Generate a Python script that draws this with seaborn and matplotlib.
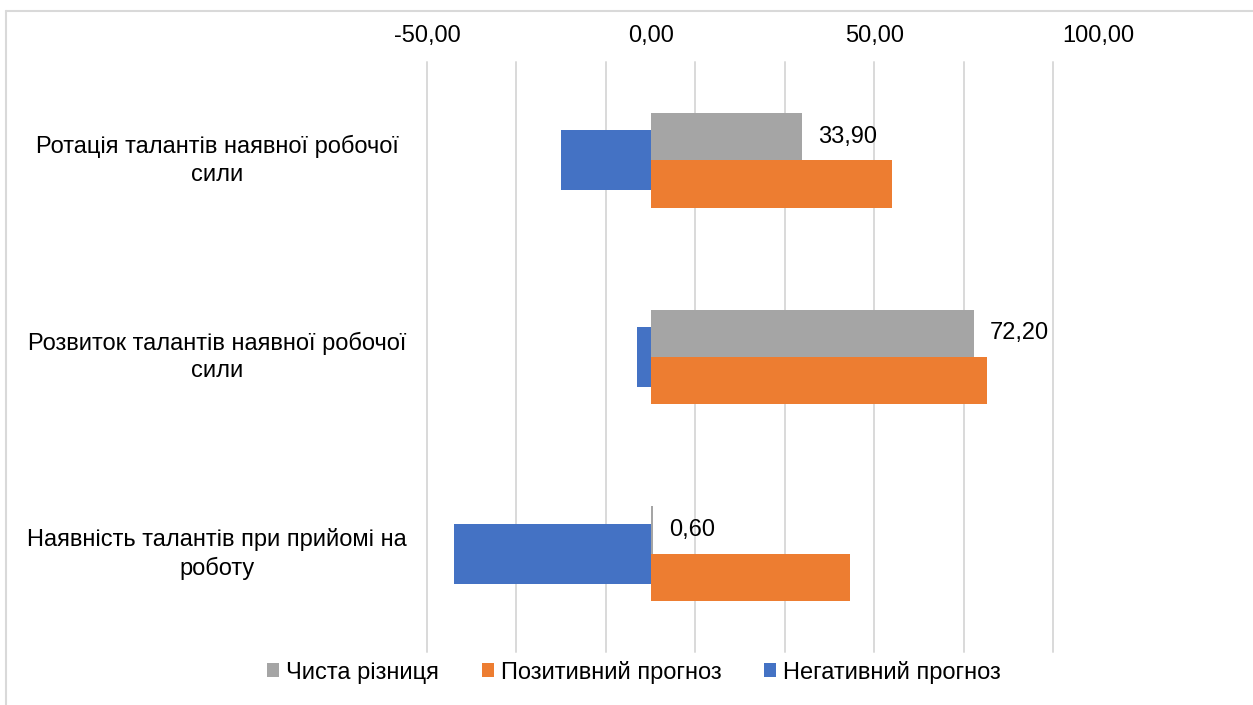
import matplotlib
matplotlib.use("Agg")
import matplotlib.pyplot as plt
import matplotlib.transforms as mtransforms
from matplotlib.ticker import MultipleLocator, FixedLocator
from matplotlib.lines import Line2D
from matplotlib.patches import Patch
import pandas as pd
import seaborn as sns

# Chart data
categories = [
    "Ротація талантів наявної робочої\nсили",
    "Розвиток талантів наявної робочої\nсили",
    "Наявність талантів при прийомі на\nроботу",
]
net_diff = [33.90, 72.20, 0.60]
positive = [53.9, 75.2, 44.5]
negative = [-20.0, -3.0, -43.9]
series_names = ["Чиста різниця", "Позитивний прогноз", "Негативний прогноз"]
series_colors = ["#A5A5A5", "#ED7D31", "#4472C4"]
axis_ticks = [-50, 0, 50, 100]

FS = 17
sns.set_style("white")
plt.rcParams["font.family"] = ["Liberation Sans", "DejaVu Sans"]
plt.rcParams["font.size"] = FS

W, H = 1253, 705
fig = plt.figure(figsize=(W / 100, H / 100), dpi=100)
ax = fig.add_axes([427 / W, 1 - 652 / H, (1098 - 427) / W, (652 - 62) / H])

paired = pd.DataFrame({
    "category": categories * 2,
    "value": net_diff + positive,
    "series": [series_names[0]] * 3 + [series_names[1]] * 3,
})
neg_df = pd.DataFrame({"category": categories, "value": negative})

# Negative forecast: one wider bar centred on each category
sns.barplot(data=neg_df, x="value", y="category", order=categories,
            color=series_colors[2], width=0.305, saturation=1,
            errorbar=None, ax=ax, zorder=2, edgecolor="none")
# Net difference and positive forecast side by side
sns.barplot(data=paired, x="value", y="category", hue="series",
            hue_order=series_names[:2], palette=series_colors[:2],
            order=categories, width=0.48, dodge=True, saturation=1,
            errorbar=None, ax=ax, legend=False, zorder=3, edgecolor="none")

# Value labels on the net difference bars
net_container = ax.containers[1]
ax.bar_label(net_container,
             labels=[f"{v:.2f}".replace(".", ",") for v in net_diff],
             padding=11.5, fontsize=FS, color="#000000")

ax.set_xlim(-50, 100)
ax.set_ylim(2.5, -0.5)

# Axis labels along the top, gridlines every 20 units
ax.xaxis.tick_top()
ax.xaxis.set_major_locator(FixedLocator(axis_ticks))
ax.set_xticklabels([f"{v:.2f}".replace(".", ",") for v in axis_ticks])
ax.xaxis.set_minor_locator(MultipleLocator(20, offset=10))
ax.xaxis.remove_overlapping_locs = False
ax.tick_params(axis="x", which="both", length=0, pad=11, labelsize=FS,
               labelcolor="#000000", bottom=False, labelbottom=False)
ax.grid(False)
ax.xaxis.grid(True, which="minor", color="#D9D9D9", linewidth=1.4)
ax.set_axisbelow(True)

ax.tick_params(axis="y", left=False, labelleft=False)
ax.set_xlabel("")
ax.set_ylabel("")
for s in ax.spines.values():
    s.set_visible(False)

# Category names, centred in the space left of the plot
trans = mtransforms.blended_transform_factory(fig.transFigure, ax.transData)
for i, cat in enumerate(categories):
    ax.text(217 / W, i, cat, transform=trans, ha="center", va="center",
            multialignment="center", fontsize=FS, color="#000000",
            linespacing=1.33)

# Legend at the bottom
handles = [Patch(facecolor=c, edgecolor="none") for c in series_colors]
leg = fig.legend(handles, series_names, loc="center",
                 bbox_to_anchor=(634 / W, 1 - 672 / H), ncol=3, frameon=False,
                 handlelength=0.52, handleheight=0.52, handletextpad=0.3,
                 columnspacing=1.8, fontsize=FS)
for t in leg.get_texts():
    t.set_color("#000000")

# Chart frame (top and left edges)
fig.add_artist(Line2D([6 / W, 6 / W], [0, 1 - 11 / H], transform=fig.transFigure,
                      color="#D9D9D9", linewidth=1.5))
fig.add_artist(Line2D([6 / W, 1], [1 - 11 / H, 1 - 11 / H], transform=fig.transFigure,
                      color="#D9D9D9", linewidth=1.5))

# Keep the gridline on the left plot edge at full width
fig.canvas.draw()
for tick in ax.xaxis.get_minor_ticks():
    tick.gridline.set_clip_on(False)

fig.savefig("out.png", dpi=100)
